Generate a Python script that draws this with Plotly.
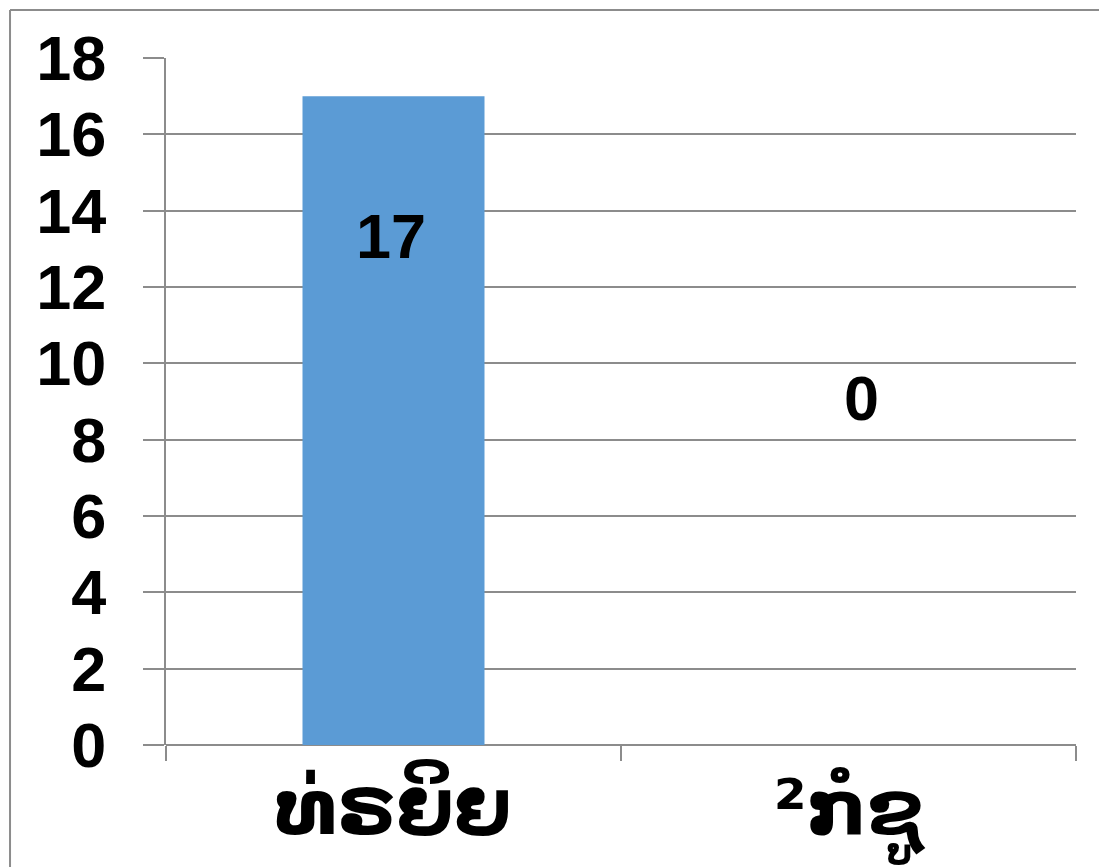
import plotly.graph_objects as go

categories = ["ທ່ຣຍິຍ", "²ກໍຊູ"]
values = [17, 0]
y_ticks = [0, 2, 4, 6, 8, 10, 12, 14, 16, 18]

GRID = "#8c8c8c"
fig = go.Figure()
fig.add_trace(go.Bar(
    x=categories, y=values,
    marker=dict(color="#5B9BD5", line=dict(width=0)),
    width=0.4,
))

label_shifts = [-140, 347]
for c, v, s in zip(categories, values, label_shifts):
    fig.add_annotation(x=c, y=v, text=str(v), showarrow=False, yshift=s,
                       xshift=-3 if v else 13,
                       font=dict(family="Liberation Sans", size=63, color="black", weight="bold"))

fig.update_layout(
    width=1099, height=867,
    margin=dict(l=166, r=23, t=58, b=122),
    paper_bgcolor="white", plot_bgcolor="white",
    showlegend=False,
    xaxis=dict(
        tickson="boundaries", ticks="outside", ticklen=15, tickwidth=2, tickcolor=GRID,
        showgrid=False, showline=False, automargin=False,
        tickfont=dict(family="DejaVu Sans", size=76, color="black", weight="bold"),
        ticklabelstandoff=12,
    ),
    yaxis=dict(
        range=[0, 18], tickvals=y_ticks, automargin=False,
        showgrid=True, gridcolor=GRID, gridwidth=2,
        zeroline=True, zerolinecolor=GRID, zerolinewidth=2,
        showline=True, linecolor=GRID, linewidth=2,
        ticks="outside", ticklen=21, tickwidth=2, tickcolor=GRID,
        tickfont=dict(family="Liberation Sans", size=63, color="black", weight="bold"),
        ticklabelstandoff=24,
    ),
)

# outer frame
fig.add_shape(type="line", xref="paper", yref="paper", x0=-0.1714, x1=1.1, y0=1.0699, y1=1.0699,
              line=dict(color="#8c8c8c", width=2))
fig.add_shape(type="line", xref="paper", yref="paper", x0=-0.1714, x1=-0.1714, y0=1.0699, y1=-0.2,
              line=dict(color="#8c8c8c", width=2))

fig.write_html("out.html")
